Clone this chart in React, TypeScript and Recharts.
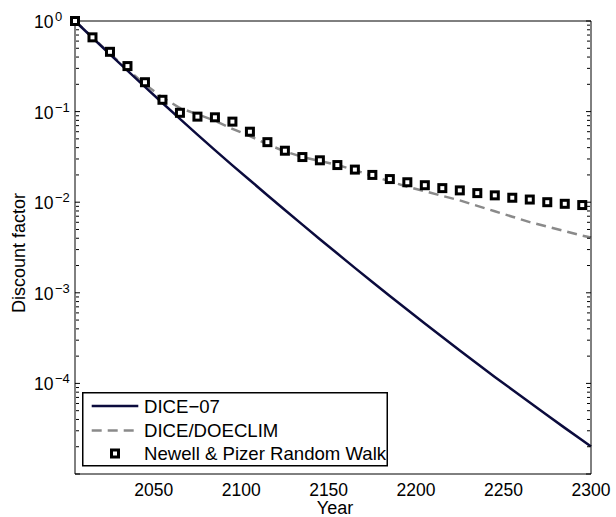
import React from 'react';
import { ComposedChart, Line, Scatter, XAxis, YAxis, Legend } from 'recharts';

const FONT = '"Liberation Sans", Arial, Helvetica, sans-serif';

// ---- data ----
const SERIES_NAMES = ['DICE\u221207', 'DICE/DOECLIM', 'Newell & Pizer Random Walk'];

const LINE_YEARS = [
  2005, 2015, 2025, 2035, 2045, 2055, 2065, 2075, 2085, 2095,
  2105, 2115, 2125, 2135, 2145, 2155, 2165, 2175, 2185, 2195,
  2205, 2215, 2225, 2235, 2245, 2255, 2265, 2275, 2285, 2295, 2300,
];

const DICE07_VALUES = [
  1.0, 0.653, 0.4285, 0.283, 0.1875, 0.1245, 0.0832, 0.0556, 0.0376, 0.0255,
  0.01746, 0.01194, 0.0082, 0.00565, 0.0039, 0.00271, 0.001884, 0.001318, 0.000923, 0.00065,
  0.000459, 0.000325, 0.000231, 0.000165, 0.000118, 0.0000851, 0.0000614, 0.0000445, 0.0000323, 0.0000236, 0.0000201,
];

const DOECLIM_VALUES = [
  1.0, 0.661, 0.4365, 0.2917, 0.1995, 0.1429, 0.1096, 0.0933, 0.0794, 0.0646,
  0.0537, 0.0437, 0.0363, 0.0316, 0.0285, 0.0257, 0.0226, 0.0195, 0.017, 0.0148,
  0.0132, 0.01175, 0.01047, 0.00912, 0.00794, 0.00692, 0.00603, 0.00537, 0.00479, 0.00427, 0.00407,
];

const MARKER_YEARS = [
  2005, 2015, 2025, 2035, 2045, 2055, 2065, 2075, 2085, 2095,
  2105, 2115, 2125, 2135, 2145, 2155, 2165, 2175, 2185, 2195,
  2205, 2215, 2225, 2235, 2245, 2255, 2265, 2275, 2285, 2295,
];

const RANDOM_WALK_VALUES = [
  1.0, 0.66, 0.457, 0.318, 0.211, 0.135, 0.097, 0.088, 0.0865, 0.0775,
  0.06, 0.046, 0.037, 0.0315, 0.029, 0.0257, 0.0229, 0.02, 0.018, 0.0166,
  0.0154, 0.0143, 0.0135, 0.0126, 0.0119, 0.0112, 0.0107, 0.01, 0.0096, 0.0093,
];

const X_DOMAIN = [2005, 2300];
const X_TICKS = [2050, 2100, 2150, 2200, 2250, 2300];
const Y_DOMAIN = [1e-5, 1];
const Y_LABEL_TICKS = [1e-4, 1e-3, 1e-2, 1e-1, 1];
const Y_MAJOR_TICKS = [1e-5, 1e-4, 1e-3, 1e-2, 1e-1, 1];
const MINOR_MULTIPLIERS = [2, 3, 4, 5, 6, 7, 8, 9];
const DECADES = [1e-5, 1e-4, 1e-3, 1e-2, 1e-1];

const Y_MINOR_TICKS = DECADES.flatMap((d) => MINOR_MULTIPLIERS.map((m) => m * d));

const dice07Data = LINE_YEARS.map((year, i) => ({ year, value: DICE07_VALUES[i] }));
const doeclimData = LINE_YEARS.map((year, i) => ({ year, value: DOECLIM_VALUES[i] }));
const randomWalkData = MARKER_YEARS.map((year, i) => ({ year, value: RANDOM_WALK_VALUES[i] }));

// ---- styles ----
const DICE07_COLOR = '#0b0b3d';
const DOECLIM_COLOR = '#8a8a8a';
const AXIS_COLOR = '#000';

const NoTick = () => <g />;

const YLabelTick = (props: any) => {
  const { x, y, payload } = props;
  const exp = Math.round(Math.log10(payload.value));
  const expText = exp < 0 ? `\u2212${-exp}` : `${exp}`;
  return (
    <text x={x - 41} y={y + 7} fontSize={17.5} fontFamily={FONT} fill="#000" textAnchor="start">
      10
      <tspan dx={1.5} dy={-7} fontSize={13}>
        {expText}
      </tspan>
    </text>
  );
};

const YTitle = (props: any) => {
  const vb = props.viewBox || { x: 0, y: 21, width: 75, height: 453 };
  const x = vb.x + 25;
  const y = vb.y + vb.height / 2 + 5.5;
  return (
    <text
      x={x}
      y={y}
      transform={`rotate(-90, ${x}, ${y})`}
      textAnchor="middle"
      fontSize={18}
      fontFamily={FONT}
      fill="#000"
    >
      {props.value}
    </text>
  );
};

const XTitle = (props: any) => {
  const vb = props.viewBox || { x: 75, y: 474, width: 516, height: 43 };
  return (
    <text
      x={vb.x + vb.width / 2 + 2}
      y={vb.y + vb.height - 3}
      textAnchor="middle"
      fontSize={18}
      fontFamily={FONT}
      fill="#000"
    >
      {props.value}
    </text>
  );
};

const SquareMarker = (props: any) => {
  const { cx, cy } = props;
  if (cx == null || cy == null) return <g />;
  return <rect x={cx - 3.5} y={cy - 3.5} width={7} height={7} fill="#fff" stroke="#000" strokeWidth={3} />;
};

const LegendContent = () => {
  const rows = [14, 38.5, 61.5];
  return (
    <svg width={306} height={75} style={{ display: 'block' }}>
      <rect x={0.75} y={0.75} width={304.5} height={73} fill="#fff" stroke="#000" strokeWidth={1.5} />
      <line x1={9.7} x2={56.3} y1={rows[0]} y2={rows[0]} stroke={DICE07_COLOR} strokeWidth={2.5} />
      <line
        x1={9.7}
        x2={56.3}
        y1={rows[1]}
        y2={rows[1]}
        stroke={DOECLIM_COLOR}
        strokeWidth={2.5}
        strokeDasharray="10 6"
      />
      <rect x={33 - 3.5} y={rows[2] - 3.5} width={7} height={7} fill="#fff" stroke="#000" strokeWidth={3} />
      {SERIES_NAMES.map((name, i) => (
        <text key={name} x={62} y={rows[i] + 6.5} fontSize={18.6} fontFamily={FONT} fill="#000">
          {name}
        </text>
      ))}
    </svg>
  );
};

const mirrorX = {
  type: 'number' as const,
  domain: X_DOMAIN,
  allowDataOverflow: true,
  ticks: X_TICKS,
  interval: 0,
  mirror: true,
  height: 1,
  tickSize: 5,
  tick: NoTick,
  tickLine: { stroke: AXIS_COLOR },
};

const mirrorY = {
  type: 'number' as const,
  scale: 'log' as const,
  domain: Y_DOMAIN,
  allowDataOverflow: true,
  interval: 0,
  mirror: true,
  width: 1,
  tick: NoTick,
  tickLine: { stroke: AXIS_COLOR },
};

export default function App() {
  return (
    <div style={{ position: 'absolute', left: 0, top: 0, width: 616, height: 517, background: '#fff' }}>
      <ComposedChart width={616} height={517} margin={{ top: 21, right: 25, bottom: 0, left: 0 }}>
        <XAxis
          xAxisId="main"
          dataKey="year"
          type="number"
          domain={X_DOMAIN}
          ticks={X_TICKS}
          interval={0}
          height={43}
          tickLine={false}
          tickSize={0}
          tickMargin={9.6}
          axisLine={{ stroke: AXIS_COLOR, strokeWidth: 1 }}
          tick={{ fontSize: 17.5, fill: '#000', fontFamily: FONT }}
          label={{ value: 'Year', content: XTitle }}
        />
        <XAxis xAxisId="bottomTicks" orientation="bottom" axisLine={false} {...mirrorX} />
        <XAxis xAxisId="top" orientation="top" axisLine={{ stroke: AXIS_COLOR, strokeWidth: 1 }} {...mirrorX} />
        <YAxis
          yAxisId="main"
          dataKey="value"
          type="number"
          scale="log"
          domain={Y_DOMAIN}
          ticks={Y_LABEL_TICKS}
          interval={0}
          width={75}
          tickLine={false}
          tickSize={0}
          tickMargin={0}
          tick={YLabelTick}
          axisLine={{ stroke: AXIS_COLOR, strokeWidth: 1 }}
          label={{ value: 'Discount factor', content: YTitle }}
        />
        <YAxis yAxisId="leftMajor" orientation="left" ticks={Y_MAJOR_TICKS} tickSize={5} axisLine={false} {...mirrorY} />
        <YAxis yAxisId="leftMinor" orientation="left" ticks={Y_MINOR_TICKS} tickSize={3} axisLine={false} {...mirrorY} />
        <YAxis
          yAxisId="rightMajor"
          orientation="right"
          ticks={Y_MAJOR_TICKS}
          tickSize={5}
          axisLine={{ stroke: AXIS_COLOR, strokeWidth: 1 }}
          {...mirrorY}
        />
        <YAxis yAxisId="rightMinor" orientation="right" ticks={Y_MINOR_TICKS} tickSize={3} axisLine={false} {...mirrorY} />
        <Line
          xAxisId="main"
          yAxisId="main"
          data={doeclimData}
          dataKey="value"
          name={SERIES_NAMES[1]}
          stroke={DOECLIM_COLOR}
          strokeWidth={2.5}
          strokeDasharray="10 6"
          dot={false}
          activeDot={false}
          type="linear"
          isAnimationActive={false}
        />
        <Line
          xAxisId="main"
          yAxisId="main"
          data={dice07Data}
          dataKey="value"
          name={SERIES_NAMES[0]}
          stroke={DICE07_COLOR}
          strokeWidth={2.5}
          dot={false}
          activeDot={false}
          type="linear"
          isAnimationActive={false}
        />
        <Scatter
          xAxisId="main"
          yAxisId="main"
          data={randomWalkData}
          dataKey="value"
          name={SERIES_NAMES[2]}
          shape={SquareMarker}
          isAnimationActive={false}
        />
        <Legend
          layout="vertical"
          align="center"
          verticalAlign="middle"
          content={LegendContent}
          wrapperStyle={{ position: 'absolute', left: 82, top: 392, width: 306, height: 75, margin: 0, padding: 0 }}
        />
      </ComposedChart>
    </div>
  );
}
